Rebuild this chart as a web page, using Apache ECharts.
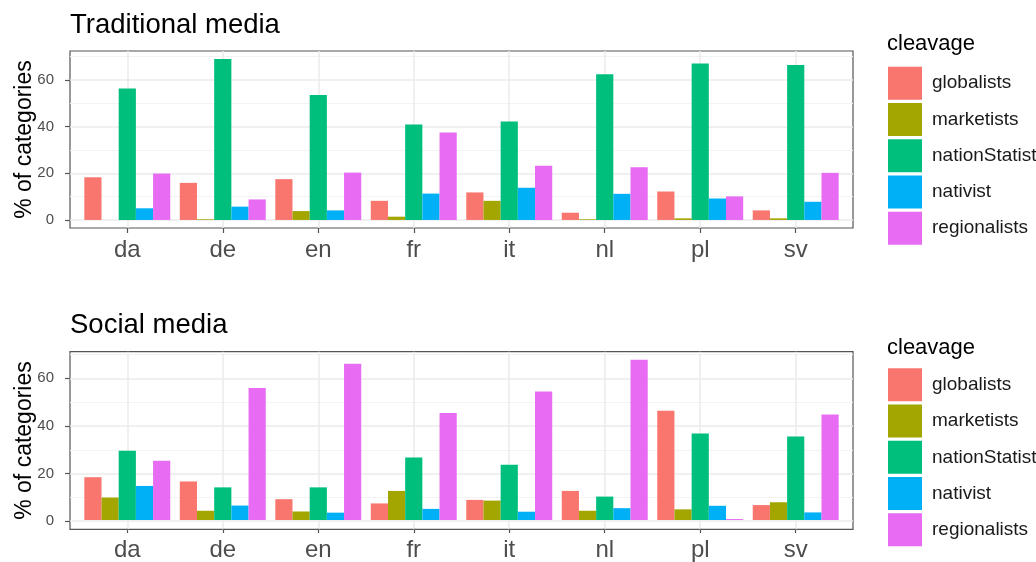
<!DOCTYPE html>
<html>
<head>
<meta charset="utf-8">
<script src="https://cdn.jsdelivr.net/npm/echarts@6/dist/echarts.min.js"></script>
<style>
  html, body { margin: 0; padding: 0; background: #fff; }
  #chart { width: 1036px; height: 562px; }
</style>
</head>
<body>
<div id="chart"></div>
<script>
var categories = ['da', 'de', 'en', 'fr', 'it', 'nl', 'pl', 'sv'];
var cleavages = ['globalists', 'marketists', 'nationStatist', 'nativist', 'regionalists'];
var colors = ['#F8766D', '#A3A500', '#00BF7D', '#00B0F6', '#E76BF3'];

// Traditional media
var tradGlobalists    = [18.3, 15.9, 17.5, 8.2, 11.8, 3.1, 12.2, 4.1];
var tradMarketists    = [0, 0.3, 3.8, 1.4, 8.2, 0.3, 0.7, 0.7];
var tradNationStatist = [56.4, 69.0, 53.6, 40.9, 42.2, 62.5, 67.1, 66.4];
var tradNativist      = [5.0, 5.7, 4.1, 11.3, 13.8, 11.2, 9.2, 7.8];
var tradRegionalists  = [19.9, 8.8, 20.3, 37.5, 23.2, 22.6, 10.1, 20.2];

// Social media
var socGlobalists    = [18.1, 16.3, 8.8, 7.0, 8.5, 12.3, 46.2, 6.3];
var socMarketists    = [9.5, 3.9, 3.6, 12.3, 8.2, 3.9, 4.5, 7.5];
var socNationStatist = [29.3, 13.8, 13.8, 26.4, 23.4, 9.9, 36.6, 35.3];
var socNativist      = [14.4, 6.1, 3.1, 4.7, 3.5, 5.0, 6.0, 3.2];
var socRegionalists  = [25.1, 55.8, 66.1, 45.3, 54.4, 67.8, 0.4, 44.6];

var yMajor = [0, 20, 40, 60];
var yMinor = [10, 30, 50, 70];

var panels = [
    { title: 'Traditional media', top: 51, height: 177, titleTop: 11, legendTitleTop: 33, legendTop: 61.7,
      data: [tradGlobalists, tradMarketists, tradNationStatist, tradNativist, tradRegionalists] },
    { title: 'Social media', top: 351.7, height: 177.6, titleTop: 311, legendTitleTop: 337, legendTop: 363.3,
      data: [socGlobalists, socMarketists, socNationStatist, socNativist, socRegionalists] }
];

var font = 'Liberation Sans, Arial, sans-serif';
var boxLeft = 70, boxRight = 1036 - 853;
var unit = (853 - 70) / 8.2;

var option = {
    animation: false,
    textStyle: { fontFamily: font },
    title: [],
    legend: [],
    grid: [],
    xAxis: [],
    yAxis: [],
    series: []
};

panels.forEach(function (p, i) {
    var maxVal = 0;
    p.data.forEach(function (arr) { arr.forEach(function (v) { if (v > maxVal) maxVal = v; }); });
    var yMin = -maxVal * 0.05, yMax = maxVal * 1.05;
    var bg = i * 2, dg = i * 2 + 1;

    option.title.push({
        text: p.title, left: 70, top: p.titleTop, padding: 0,
        textStyle: { fontSize: 27.5, fontWeight: 'normal', color: '#000', fontFamily: font }
    });
    option.title.push({
        text: 'cleavage', left: 887, top: p.legendTitleTop, padding: 0,
        textStyle: { fontSize: 22, fontWeight: 'normal', color: '#000', fontFamily: font }
    });

    option.legend.push({
        orient: 'vertical', left: 883, top: p.legendTop,
        itemWidth: 34, itemHeight: 33, itemGap: 3.25,
        icon: 'rect', selectedMode: false,
        data: cleavages,
        textStyle: { fontSize: 19, color: '#1a1a1a', fontFamily: font, padding: [0, 0, 0, 5] }
    });

    // panel box with gridlines
    option.grid.push({
        left: boxLeft, right: boxRight, top: p.top, height: p.height,
        show: true, backgroundColor: '#fff', borderColor: '#555', borderWidth: 1.2
    });
    // bar area (ggplot discrete expansion of 0.6)
    option.grid.push({
        left: boxLeft + unit * 0.1, right: boxRight + unit * 0.1, top: p.top, height: p.height
    });

    option.xAxis.push({
        type: 'value', gridIndex: bg, min: 0.4, max: 8.6,
        axisLine: { show: false }, axisTick: { show: false }, axisLabel: { show: false }, splitLine: { show: false }
    });
    option.xAxis.push({
        type: 'category', gridIndex: dg, data: categories,
        axisLine: { show: false, onZero: false },
        axisTick: { show: true, alignWithLabel: true, length: 5, lineStyle: { color: '#555', width: 1.2 } },
        axisLabel: { fontSize: 24, color: '#4d4d4d', margin: 10, fontFamily: font },
        splitLine: { show: false }
    });

    option.yAxis.push({
        type: 'value', gridIndex: bg, min: yMin, max: yMax,
        name: '% of categories', nameLocation: 'middle', nameGap: 34, nameMoveOverlap: false,
        nameTextStyle: { fontSize: 23, color: '#000', fontFamily: font },
        axisLine: { show: false },
        axisTick: { show: true, customValues: yMajor, length: 5, lineStyle: { color: '#555', width: 1.2 } },
        axisLabel: { customValues: yMajor, fontSize: 15, color: '#4d4d4d', margin: 16, fontFamily: font },
        splitLine: { show: false }
    });
    option.yAxis.push({
        type: 'value', gridIndex: dg, min: yMin, max: yMax, show: false
    });

    var lines = [];
    yMinor.forEach(function (v) { lines.push({ yAxis: v, lineStyle: { color: '#f3f3f3', width: 1, type: 'solid' } }); });
    yMajor.forEach(function (v) { lines.push({ yAxis: v, lineStyle: { color: '#ebebeb', width: 1.5, type: 'solid' } }); });
    categories.forEach(function (c, k) { lines.push({ xAxis: k + 1, lineStyle: { color: '#ebebeb', width: 1.5, type: 'solid' } }); });

    option.series.push({
        type: 'line', xAxisIndex: bg, yAxisIndex: bg, data: [], z: 1, silent: true,
        markLine: { silent: true, z: 1, symbol: 'none', label: { show: false }, data: lines }
    });

    cleavages.forEach(function (name, s) {
        option.series.push({
            name: name, type: 'bar', xAxisIndex: dg, yAxisIndex: dg,
            data: p.data[s], z: 3,
            barCategoryGap: '10%', barGap: '0%',
            itemStyle: { color: colors[s] }
        });
    });
});

var chart = echarts.init(document.getElementById('chart'));
chart.setOption(option);
</script>
</body>
</html>
